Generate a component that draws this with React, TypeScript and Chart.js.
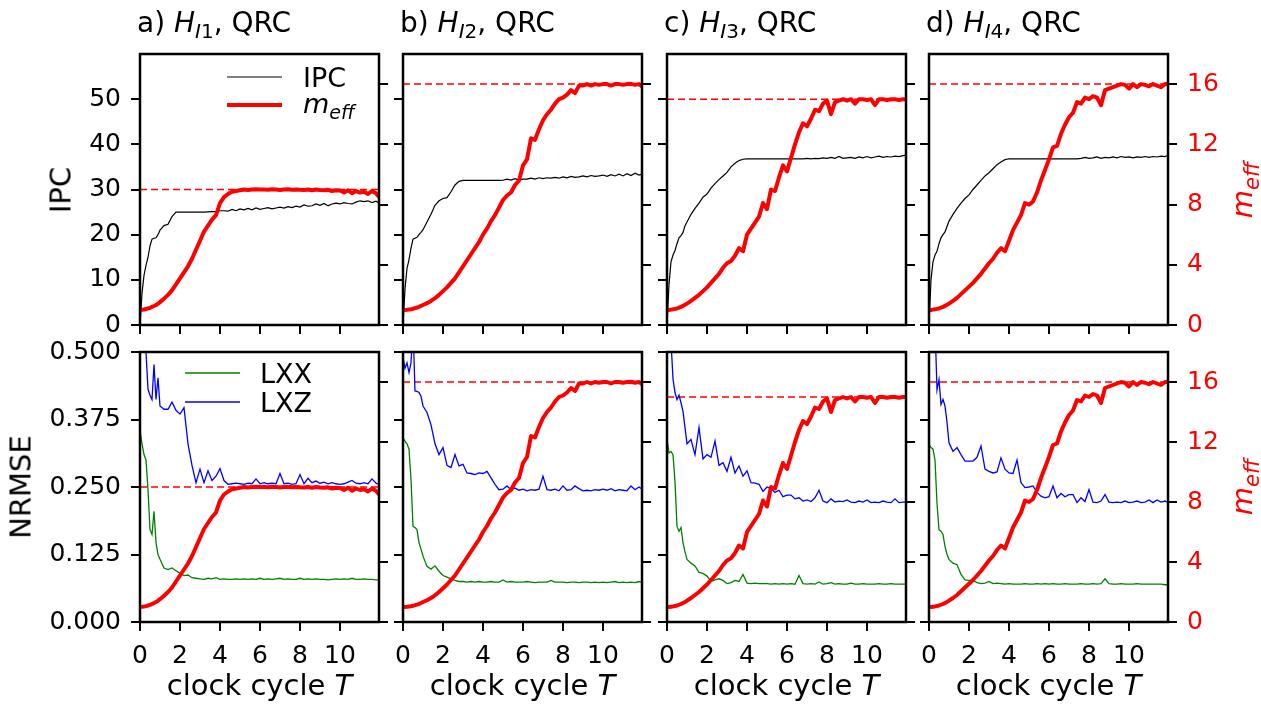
import React, { useEffect, useRef } from "react";
import { Chart, registerables } from "chart.js";

Chart.register(...registerables);

// ---------------- data ----------------
const cycles = [
  0, 0.1, 0.2, 0.3, 0.4, 0.5, 0.6, 0.7, 0.8, 0.9, 1.0,
  1.2, 1.4, 1.6, 1.8, 2.0, 2.2, 2.4, 2.6, 2.8, 3.0,
  3.2, 3.4, 3.6, 3.8, 4.0, 4.2, 4.4, 4.6, 4.8, 5.0,
  5.2, 5.4, 5.6, 5.8, 6.0, 6.2, 6.4, 6.6, 6.8, 7.0,
  7.2, 7.4, 7.6, 7.8, 8.0, 8.2, 8.4, 8.6, 8.8, 9.0,
  9.2, 9.4, 9.6, 9.8, 10.0, 10.2, 10.4, 10.6, 10.8, 11.0,
  11.2, 11.4, 11.6, 11.8, 11.95,
];

const ipcA = [0, 7, 11, 13.2, 15, 17.5, 19, 19.2, 19.3, 20, 21,
  22, 22.3, 24, 25, 25, 25, 25, 25, 25, 25,
  25, 25.05, 25.1, 25.1, 25.3, 25.3, 25.2, 25.6, 25.3, 25.7,
  25.5, 25.8, 25.5, 25.9, 25.6, 25.8, 26.0, 25.7, 25.9, 26.1,
  25.9, 26.2, 26.0, 26.3, 26.1, 26.6, 26.3, 26.4, 26.8, 26.5,
  26.9, 26.4, 26.8, 27.0, 26.8, 27.1, 26.9, 26.8, 27.2, 27.5,
  27.3, 27.5, 27.1, 27.4, 27.0];
const ipcB = [0, 8, 12.5, 14.5, 17, 19, 19.2, 19.4, 20, 20.5, 21.1,
  22.8, 24.5, 26.5, 27.5, 28, 28.2, 29.5, 31, 31.8, 32,
  32, 32, 32, 32, 32, 32, 32, 32, 32, 32.05,
  32.3, 32.1, 32.4, 32.1, 32.3, 32.3, 32.5, 32.3, 32.6, 32.4,
  32.6, 32.5, 32.7, 32.5, 32.8, 32.6, 32.9, 32.7, 32.8, 33.0,
  32.8, 33.1, 32.9, 33.0, 33.2, 32.9, 33.3, 33.0, 33.4, 33.0,
  33.5, 33.1, 33.6, 33.2, 33.4];
const ipcC = [0, 9, 14, 15.5, 16.5, 18, 19.3, 19.8, 20.5, 22, 22.8,
  24.5, 25.8, 27, 28.3, 29, 30.3, 31.3, 32.2, 33, 33.8,
  35.0, 35.8, 36.4, 36.7, 36.8, 36.8, 36.8, 36.8, 36.8, 36.8,
  36.8, 36.8, 36.8, 36.8, 36.8, 36.8, 36.8, 36.8, 36.8, 36.9,
  36.8, 36.9, 36.85, 37.0, 36.9, 37.1, 36.9, 37.3, 36.9, 37.0,
  37.1, 36.9, 37.2, 37.0, 37.3, 37.0, 37.2, 37.4, 37.1, 37.3,
  37.2, 37.4, 37.3, 37.5, 37.6];
const ipcD = [0, 10, 14, 15.5, 16.3, 18, 19.3, 20, 20.6, 21.8, 23,
  24.5, 25.8, 27, 28, 28.8, 30, 31, 32, 33, 33.7,
  34.6, 35.5, 36.1, 36.6, 36.8, 36.8, 36.8, 36.8, 36.8, 36.8,
  36.8, 36.8, 36.8, 36.8, 36.8, 36.8, 36.8, 36.8, 36.8, 36.8,
  36.8, 36.8, 36.9, 37.1, 36.9, 37.0, 37.2, 36.9, 37.1, 37.0,
  37.2, 37.0, 37.3, 37.1, 37.2, 37.0, 37.2, 37.1, 37.3, 37.1,
  37.3, 37.2, 37.4, 37.3, 37.6];

const mEffA = [1.0, 1.01, 1.03, 1.06, 1.1, 1.14, 1.2, 1.26, 1.33, 1.42, 1.52,
  1.75, 2.0, 2.3, 2.7, 3.1, 3.5, 3.9, 4.4, 5.0, 5.6,
  6.2, 6.6, 7.0, 7.3, 8.1, 8.5, 8.7, 8.85, 8.9, 8.95,
  9.0, 8.97, 9.0, 9.02, 9.0, 9.0, 8.98, 9.02, 9.0, 8.97,
  9.0, 9.02, 8.98, 9.0, 8.98, 8.97, 9.0, 8.95, 9.0, 8.97,
  8.95, 8.98, 8.9, 8.95, 8.93, 8.8, 8.95, 8.75, 8.9, 8.8,
  8.85, 8.7, 8.9, 8.75, 8.5];
const mEffB = [1.0, 1.0, 1.01, 1.03, 1.05, 1.08, 1.12, 1.16, 1.21, 1.27, 1.33,
  1.45, 1.6, 1.78, 2.0, 2.25, 2.5, 2.8, 3.1, 3.5, 3.9,
  4.3, 4.7, 5.1, 5.5, 6.0, 6.4, 6.9, 7.3, 7.8, 8.3,
  8.6, 8.8, 9.3, 9.6, 10.6, 11.0, 12.4, 12.3, 13.0, 13.6,
  14.0, 14.3, 14.7, 15.0, 15.1, 15.3, 15.6, 15.4, 15.9, 15.9,
  16.0, 15.9, 16.0, 15.95, 16.0, 16.0, 15.9, 16.0, 16.0, 15.95,
  16.0, 16.02, 15.95, 16.0, 15.85];
const mEffC = [1.0, 1.0, 1.02, 1.04, 1.07, 1.1, 1.15, 1.2, 1.27, 1.34, 1.42,
  1.6, 1.8, 2.0, 2.25, 2.5, 2.8, 3.1, 3.4, 3.8, 4.1,
  4.25, 4.6, 5.1, 4.9, 6.0, 6.4, 6.8, 7.2, 8.1, 7.7,
  9.0, 8.9, 9.8, 10.6, 10.2, 11.1, 12.0, 12.8, 13.4, 13.2,
  13.7, 14.3, 14.2, 14.7, 14.9, 14.0, 14.8, 14.9, 15.0, 14.9,
  15.0, 14.7, 15.0, 15.0, 14.95, 15.0, 14.6, 15.0, 15.0, 14.95,
  15.0, 15.0, 14.95, 15.0, 15.0];
const mEffD = [1.0, 1.0, 1.02, 1.04, 1.07, 1.1, 1.15, 1.2, 1.27, 1.34, 1.42,
  1.6, 1.8, 2.05, 2.3, 2.55, 2.8, 3.1, 3.4, 3.75, 4.1,
  4.4, 4.8, 5.1, 4.9, 5.6, 6.3, 6.8, 7.3, 8.1, 8.0,
  8.2, 8.8, 9.6, 10.3, 11.0, 11.8, 11.9, 12.7, 13.3, 13.8,
  14.1, 14.8, 14.7, 15.1, 15.0, 15.2, 15.1, 14.6, 15.6, 15.7,
  15.8, 15.9, 16.0, 15.95, 15.7, 16.0, 15.8, 16.0, 15.95, 15.85,
  16.0, 15.9, 15.8, 16.0, 16.0];

const lxxA = [0.355, 0.33, 0.31, 0.30, 0.245, 0.171, 0.162, 0.205, 0.147, 0.125, 0.116,
  0.100, 0.097, 0.100, 0.095, 0.090, 0.086, 0.087, 0.082, 0.081, 0.080,
  0.079, 0.081, 0.080, 0.082, 0.079, 0.080, 0.079, 0.079, 0.080, 0.079,
  0.080, 0.079, 0.080, 0.079, 0.081, 0.079, 0.080, 0.079, 0.080, 0.081,
  0.079, 0.080, 0.079, 0.079, 0.081, 0.079, 0.080, 0.079, 0.080, 0.079,
  0.079, 0.078, 0.079, 0.080, 0.079, 0.080, 0.079, 0.081, 0.079, 0.079,
  0.080, 0.079, 0.079, 0.078, 0.078];
const lxzA = [0.62, 0.58, 0.53, 0.50, 0.431, 0.42, 0.412, 0.477, 0.412, 0.452, 0.40,
  0.394, 0.394, 0.407, 0.392, 0.385, 0.397, 0.33, 0.29, 0.258, 0.283,
  0.258, 0.28, 0.262, 0.27, 0.284, 0.262, 0.255, 0.256, 0.257, 0.256,
  0.255, 0.257, 0.256, 0.265, 0.256, 0.258, 0.256, 0.257, 0.256, 0.275,
  0.256, 0.257, 0.255, 0.256, 0.273, 0.256, 0.266, 0.258, 0.261, 0.257,
  0.259, 0.256, 0.258, 0.256, 0.255, 0.256, 0.259, 0.262, 0.257, 0.256,
  0.258, 0.256, 0.265, 0.257, 0.255];
const lxxB = [0.341, 0.335, 0.33, 0.32, 0.264, 0.177, 0.175, 0.171, 0.147, 0.135, 0.122,
  0.103, 0.098, 0.104, 0.094, 0.086, 0.083, 0.080, 0.077, 0.075, 0.075,
  0.074, 0.075, 0.074, 0.075, 0.074, 0.074, 0.075, 0.074, 0.074, 0.078,
  0.074, 0.075, 0.074, 0.074, 0.074, 0.075, 0.074, 0.073, 0.074, 0.074,
  0.074, 0.077, 0.074, 0.074, 0.074, 0.073, 0.074, 0.074, 0.073, 0.074,
  0.074, 0.073, 0.074, 0.073, 0.074, 0.073, 0.074, 0.075, 0.073, 0.074,
  0.073, 0.074, 0.073, 0.075, 0.074];
const lxzB = [0.49, 0.47, 0.48, 0.462, 0.48, 0.55, 0.428, 0.427, 0.425, 0.418, 0.40,
  0.388, 0.365, 0.33, 0.31, 0.323, 0.29, 0.286, 0.31, 0.289, 0.292,
  0.276, 0.275, 0.273, 0.276, 0.275, 0.279, 0.267, 0.255, 0.245, 0.246,
  0.252, 0.245, 0.248, 0.244, 0.246, 0.243, 0.245, 0.244, 0.246, 0.27,
  0.245, 0.244, 0.246, 0.243, 0.252, 0.244, 0.245, 0.252, 0.247, 0.243,
  0.244, 0.243, 0.245, 0.244, 0.246, 0.244, 0.247, 0.243, 0.245, 0.244,
  0.243, 0.252, 0.245, 0.250, 0.246];
const lxxC = [0.338, 0.313, 0.316, 0.31, 0.26, 0.177, 0.168, 0.175, 0.147, 0.13, 0.116,
  0.109, 0.104, 0.092, 0.09, 0.085, 0.075, 0.078, 0.080, 0.077, 0.071,
  0.073, 0.077, 0.075, 0.088, 0.072, 0.071, 0.072, 0.071, 0.071, 0.071,
  0.070, 0.071, 0.070, 0.071, 0.070, 0.071, 0.070, 0.086, 0.071, 0.070,
  0.071, 0.070, 0.074, 0.070, 0.071, 0.073, 0.070, 0.071, 0.070, 0.070,
  0.072, 0.070, 0.070, 0.071, 0.070, 0.070, 0.070, 0.071, 0.070, 0.070,
  0.071, 0.070, 0.070, 0.070, 0.070];
const lxzC = [0.65, 0.6, 0.52, 0.45, 0.425, 0.412, 0.42, 0.406, 0.39, 0.36, 0.33,
  0.338, 0.31, 0.36, 0.302, 0.31, 0.305, 0.335, 0.29, 0.295, 0.279,
  0.305, 0.276, 0.289, 0.27, 0.28, 0.258, 0.257, 0.255, 0.242, 0.25,
  0.247, 0.24, 0.244, 0.232, 0.235, 0.235, 0.228, 0.23, 0.224, 0.226,
  0.223, 0.23, 0.244, 0.224, 0.221, 0.228, 0.222, 0.224, 0.223, 0.226,
  0.222, 0.221, 0.224, 0.222, 0.226, 0.221, 0.222, 0.221, 0.224, 0.222,
  0.221, 0.228, 0.221, 0.222, 0.222];
const lxxD = [0.329, 0.323, 0.32, 0.30, 0.22, 0.171, 0.168, 0.162, 0.14, 0.125, 0.116,
  0.109, 0.106, 0.088, 0.078, 0.077, 0.077, 0.073, 0.071, 0.072, 0.075,
  0.071, 0.072, 0.071, 0.070, 0.071, 0.070, 0.070, 0.070, 0.071, 0.070,
  0.070, 0.071, 0.070, 0.071, 0.070, 0.071, 0.070, 0.070, 0.071, 0.070,
  0.070, 0.070, 0.071, 0.070, 0.070, 0.071, 0.070, 0.071, 0.080, 0.071,
  0.070, 0.070, 0.071, 0.070, 0.070, 0.070, 0.071, 0.070, 0.070, 0.070,
  0.070, 0.070, 0.070, 0.069, 0.069];
const lxzD = [0.5, 0.53, 0.6, 0.55, 0.43, 0.449, 0.403, 0.412, 0.4, 0.37, 0.332,
  0.316, 0.323, 0.31, 0.298, 0.298, 0.298, 0.305, 0.326, 0.283, 0.279,
  0.276, 0.278, 0.304, 0.283, 0.276, 0.275, 0.30, 0.258, 0.249, 0.25,
  0.252, 0.24, 0.233, 0.23, 0.232, 0.252, 0.23, 0.238, 0.232, 0.236,
  0.236, 0.221, 0.23, 0.223, 0.245, 0.222, 0.221, 0.224, 0.236, 0.222,
  0.221, 0.222, 0.221, 0.224, 0.221, 0.222, 0.224, 0.221, 0.222, 0.226,
  0.221, 0.226, 0.222, 0.224, 0.221];

const mEffTargets = [9, 16, 15, 16];
const panelLetters = ["a", "b", "c", "d"];
const panelIndices = ["1", "2", "3", "4"];
const ipcTicks = [0, 10, 20, 30, 40, 50];
const nrmseTicks = [0, 0.125, 0.25, 0.375, 0.5];
const mEffTicks = [0, 4, 8, 12, 16];
const cycleTicks = [0, 2, 4, 6, 8, 10];
const topLegendLabels = ["IPC", "m"];
const bottomLegendLabels = ["LXX", "LXZ"];

// ---------------- layout ----------------
const FONT = "'DejaVu Sans', sans-serif";
const COL_LEFT = [140, 403, 667, 929];
const ROW_TOP = [54, 352];
const ROW_H = [271, 270];
const PW = 239;
const ML = 135;
const MR = 100;
const MT = 30;
const MB = 70;
const TICK_FONT = 25;

const IPC_SERIES = [ipcA, ipcB, ipcC, ipcD];
const MEFF_SERIES = [mEffA, mEffB, mEffC, mEffD];
const LXX_SERIES = [lxxA, lxxB, lxxC, lxxD];
const LXZ_SERIES = [lxzA, lxzB, lxzC, lxzD];

function pts(arr: number[]) {
  return cycles.map((x, i) => ({ x, y: arr[i] }));
}

function buildChart(canvas: HTMLCanvasElement, col: number, row: number) {
  const xMax = cycles[cycles.length - 1];
  const base = { pointRadius: 0, fill: false, tension: 0, clip: 0 };
  const datasets: any[] = [
    { ...base, label: "m_eff", data: pts(MEFF_SERIES[col]), yAxisID: "y1", borderColor: "#ff0000", borderWidth: 4, borderJoinStyle: "round", order: 0 },
  ];
  if (row === 0) {
    datasets.push({ ...base, label: "IPC", data: pts(IPC_SERIES[col]), yAxisID: "y", borderColor: "#000000", borderWidth: 1.2, order: 1 });
  } else {
    datasets.push({ ...base, label: "LXX", data: pts(LXX_SERIES[col]), yAxisID: "y", borderColor: "#008000", borderWidth: 1.3, order: 2 });
    datasets.push({ ...base, label: "LXZ", data: pts(LXZ_SERIES[col]), yAxisID: "y", borderColor: "#0000ff", borderWidth: 1.3, order: 1 });
  }
  datasets.push({
    ...base, label: "target",
    data: [{ x: 0, y: mEffTargets[col] }, { x: xMax, y: mEffTargets[col] }],
    yAxisID: "y1", borderColor: "#ff0000", borderWidth: 1.5, borderDash: [7, 4], order: 5,
  });

  const gridOpts = { drawOnChartArea: false, drawTicks: true, tickLength: 9, color: "#000000", lineWidth: 2 };
  const font = { family: FONT, size: TICK_FONT };

  const framePlugin = {
    id: "frameAndLegend",
    afterDraw(chart: any) {
      const { ctx, chartArea: a } = chart;
      ctx.save();
      ctx.strokeStyle = "#000";
      ctx.lineWidth = 2.5;
      ctx.strokeRect(a.left, a.top, a.right - a.left, a.bottom - a.top);
      if (col === 0) {
        const entries = row === 0
          ? [
              { color: "#000000", width: 1.2, dy: 23, text: topLegendLabels[0], sub: "" },
              { color: "#ff0000", width: 4, dy: 51, text: topLegendLabels[1], sub: "eff" },
            ]
          : [
              { color: "#008000", width: 1.3, dy: 21, text: bottomLegendLabels[0], sub: "" },
              { color: "#0000ff", width: 1.3, dy: 50, text: bottomLegendLabels[1], sub: "" },
            ];
        const x0 = a.left + (row === 0 ? 87 : 45);
        const x1 = a.left + (row === 0 ? 142 : 100);
        const tx = a.left + (row === 0 ? 163 : 120);
        entries.forEach((e) => {
          const y = a.top + e.dy;
          ctx.beginPath();
          ctx.strokeStyle = e.color;
          ctx.lineWidth = e.width;
          ctx.moveTo(x0, y);
          ctx.lineTo(x1, y);
          ctx.stroke();
          ctx.fillStyle = "#000";
          ctx.textBaseline = "alphabetic";
          ctx.textAlign = "left";
          if (e.sub) {
            ctx.font = `italic 27px ${FONT}`;
            ctx.fillText(e.text, tx, y + 8);
            const w = ctx.measureText(e.text).width;
            ctx.font = `italic 19px ${FONT}`;
            ctx.fillText(e.sub, tx + w, y + 14);
          } else {
            ctx.font = `27px ${FONT}`;
            ctx.fillText(e.text, tx, y + 10);
          }
        });
      }
      ctx.restore();
    },
  };

  return new Chart(canvas, {
    type: "line",
    data: { datasets },
    plugins: [framePlugin],
    options: {
      animation: false,
      responsive: false,
      devicePixelRatio: 1,
      events: [],
      layout: { padding: { top: MT, left: 0, right: 0, bottom: 0 } },
      plugins: { legend: { display: false }, tooltip: { enabled: false }, title: { display: false } },
      scales: {
        x: {
          type: "linear",
          min: 0,
          max: xMax,
          afterBuildTicks: (s: any) => { s.ticks = cycleTicks.map((v) => ({ value: v })); },
          afterFit: (s: any) => { s.height = MB; },
          ticks: {
            autoSkip: false, maxRotation: 0, minRotation: 0, padding: 10, color: "#000", font,
            callback: (v: any) => (row === 1 ? String(v) : ""),
          },
          grid: gridOpts,
          border: { display: false },
        },
        y: {
          type: "linear",
          position: "left",
          min: 0,
          max: row === 0 ? 60 : 0.5,
          afterBuildTicks: (s: any) => { s.ticks = (row === 0 ? ipcTicks : nrmseTicks).map((v) => ({ value: v })); },
          afterFit: (s: any) => { s.width = ML; },
          ticks: {
            autoSkip: false, padding: 10, color: "#000", font,
            callback: (v: any) => (col === 0 ? (row === 0 ? String(v) : Number(v).toFixed(3)) : ""),
          },
          grid: gridOpts,
          border: { display: false },
        },
        y1: {
          type: "linear",
          position: "right",
          min: 0,
          max: 18,
          afterBuildTicks: (s: any) => { s.ticks = mEffTicks.map((v) => ({ value: v })); },
          afterFit: (s: any) => { s.width = MR; },
          ticks: {
            autoSkip: false, padding: 10, color: "#ff0000", font,
            callback: (v: any) => (col === 3 ? String(v) : ""),
          },
          grid: gridOpts,
          border: { display: false },
        },
      },
    } as any,
  });
}

function baselineTop(baseline: number, size: number) {
  return baseline - 0.846 * size;
}

export default function App() {
  const refs = useRef<(HTMLCanvasElement | null)[]>([]);

  useEffect(() => {
    const charts: Chart[] = [];
    for (let row = 0; row < 2; row++) {
      for (let col = 0; col < 4; col++) {
        const cv = refs.current[row * 4 + col];
        if (cv) charts.push(buildChart(cv, col, row));
      }
    }
    return () => charts.forEach((c) => c.destroy());
  }, []);

  const canvases: React.ReactNode[] = [];
  for (let row = 0; row < 2; row++) {
    for (let col = 0; col < 4; col++) {
      const w = ML + PW + MR;
      const h = MT + ROW_H[row] + MB;
      const idx = row * 4 + col;
      canvases.push(
        <canvas
          key={idx}
          ref={(el) => { refs.current[idx] = el; }}
          width={w}
          height={h}
          style={{ position: "absolute", left: COL_LEFT[col] - ML, top: ROW_TOP[row] - MT, width: w, height: h }}
        />
      );
    }
  }

  const titleSize = 28;
  const xLabelSize = 29;
  const yLabelSize = 29;

  return (
    <div style={{ position: "fixed", left: 0, top: 0, width: 1261, height: 707, background: "#fff", overflow: "hidden", fontFamily: FONT }}>
      {canvases}
      {COL_LEFT.map((left, col) => (
        <div
          key={"t" + col}
          style={{ position: "absolute", left: left - 3, top: baselineTop(33, titleSize), fontSize: titleSize, lineHeight: `${titleSize}px`, whiteSpace: "nowrap", color: "#000" }}
        >
          {panelLetters[col]}) <i>H</i>
          <span style={{ fontSize: 20, position: "relative", top: 6 }}><i>I</i>{panelIndices[col]}</span>, QRC
        </div>
      ))}
      {COL_LEFT.map((left, col) => (
        <div
          key={"x" + col}
          style={{ position: "absolute", left: left + PW / 2, top: baselineTop(696, xLabelSize), transform: "translateX(-50%)", fontSize: xLabelSize, lineHeight: `${xLabelSize}px`, whiteSpace: "nowrap", color: "#000" }}
        >
          clock cycle <i>T</i>
        </div>
      ))}
      <div style={{ position: "absolute", left: 61, top: ROW_TOP[0] + ROW_H[0] / 2, transform: "translate(-50%,-50%) rotate(-90deg)", fontSize: yLabelSize, lineHeight: `${yLabelSize}px`, whiteSpace: "nowrap", color: "#000" }}>
        IPC
      </div>
      <div style={{ position: "absolute", left: 21, top: ROW_TOP[1] + ROW_H[1] / 2, transform: "translate(-50%,-50%) rotate(-90deg)", fontSize: yLabelSize, lineHeight: `${yLabelSize}px`, whiteSpace: "nowrap", color: "#000" }}>
        NRMSE
      </div>
      {[0, 1].map((row) => (
        <div
          key={"m" + row}
          style={{ position: "absolute", left: 1244, top: ROW_TOP[row] + ROW_H[row] / 2, transform: "translate(-50%,-50%) rotate(-90deg)", fontSize: yLabelSize, lineHeight: `${yLabelSize}px`, whiteSpace: "nowrap", color: "#ff0000" }}
        >
          <i>m</i>
          <span style={{ fontSize: 21, position: "relative", top: 7 }}><i>eff</i></span>
        </div>
      ))}
    </div>
  );
}
